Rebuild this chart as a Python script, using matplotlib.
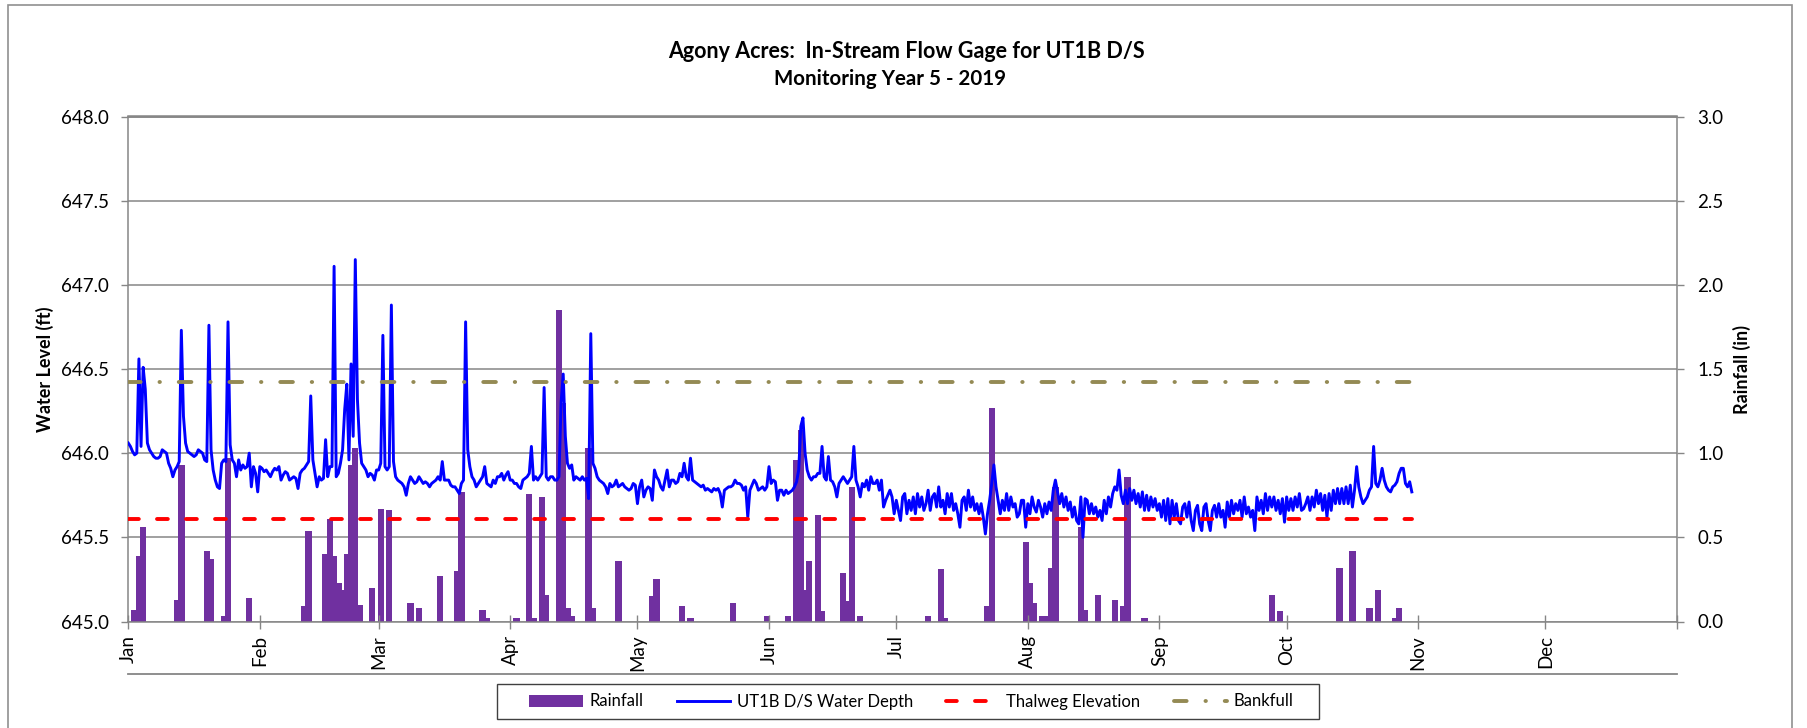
import numpy as np
import matplotlib
matplotlib.use('Agg')
import matplotlib.pyplot as plt
from matplotlib.lines import Line2D
from matplotlib.patches import Rectangle

plt.rcParams['font.family'] = ['Lato', 'DejaVu Sans']

# daily rainfall totals (in)
rain_dates = ['2019-01-02', '2019-01-03', '2019-01-04', '2019-01-12', '2019-01-13',
              '2019-01-19', '2019-01-20', '2019-01-23', '2019-01-24', '2019-01-29',
              '2019-02-11', '2019-02-12', '2019-02-16', '2019-02-17', '2019-02-18',
              '2019-02-19', '2019-02-20', '2019-02-21', '2019-02-22', '2019-02-23',
              '2019-02-24', '2019-02-27',
              '2019-03-01', '2019-03-03', '2019-03-08', '2019-03-10', '2019-03-15',
              '2019-03-19', '2019-03-20', '2019-03-25', '2019-03-26',
              '2019-04-02', '2019-04-05', '2019-04-06', '2019-04-08', '2019-04-09',
              '2019-04-12', '2019-04-13', '2019-04-14', '2019-04-15', '2019-04-19',
              '2019-04-20', '2019-04-26',
              '2019-05-04', '2019-05-05', '2019-05-11', '2019-05-13', '2019-05-23',
              '2019-05-31',
              '2019-06-05', '2019-06-07', '2019-06-08', '2019-06-09', '2019-06-10',
              '2019-06-12', '2019-06-13', '2019-06-18', '2019-06-19', '2019-06-20',
              '2019-06-22',
              '2019-07-08', '2019-07-11', '2019-07-12', '2019-07-22', '2019-07-23',
              '2019-07-31',
              '2019-08-01', '2019-08-02', '2019-08-04', '2019-08-05', '2019-08-06',
              '2019-08-07', '2019-08-13', '2019-08-14', '2019-08-17', '2019-08-21',
              '2019-08-23', '2019-08-24', '2019-08-28',
              '2019-09-27', '2019-09-29',
              '2019-10-13', '2019-10-16', '2019-10-20', '2019-10-22', '2019-10-26',
              '2019-10-27']
rain_in = [0.07, 0.39, 0.56, 0.13, 0.93, 0.42, 0.37, 0.03, 0.97, 0.14,
           0.09, 0.54, 0.40, 0.61, 0.39, 0.23, 0.19, 0.40, 0.93, 1.03, 0.10, 0.20,
           0.67, 0.66, 0.11, 0.08, 0.27, 0.30, 0.77, 0.07, 0.02,
           0.02, 0.76, 0.02, 0.74, 0.16, 1.85, 1.30, 0.08, 0.03, 1.03, 0.08, 0.36,
           0.15, 0.25, 0.09, 0.02, 0.11, 0.03,
           0.03, 0.96, 1.14, 0.19, 0.36, 0.63, 0.06, 0.29, 0.12, 0.80, 0.03,
           0.03, 0.31, 0.02, 0.09, 1.27, 0.47,
           0.23, 0.11, 0.03, 0.03, 0.32, 0.80, 0.56, 0.07, 0.16, 0.13, 0.09, 0.86, 0.02,
           0.16, 0.06,
           0.32, 0.42, 0.08, 0.19, 0.02, 0.08]

# gage readings every 12 h from Jan 1, in hundredths of a foot above 645.00 ft
level_start = '2019-01-01T00:00'
level_hundredths = [
    106, 104, 101, 99, 100, 156, 104, 151, 138, 106, 102, 100, 98, 97, 97, 98, 102, 101, 100, 94,
    91, 86, 90, 92, 95, 173, 122, 106, 101, 100, 99, 98, 99, 102, 101, 100, 96, 95, 176, 102,
    90, 84, 80, 79, 94, 96, 95, 178, 105, 96, 94, 86, 96, 90, 93, 91, 92, 100, 80, 92,
    88, 77, 92, 91, 89, 90, 88, 86, 89, 91, 90, 92, 84, 87, 89, 88, 84, 85, 86, 85,
    79, 88, 90, 91, 93, 95, 134, 96, 88, 80, 86, 84, 85, 108, 86, 92, 92, 211, 86, 88,
    94, 102, 126, 141, 96, 153, 110, 215, 132, 106, 94, 92, 90, 86, 88, 87, 84, 90, 90, 94,
    170, 92, 90, 92, 188, 95, 86, 84, 83, 82, 80, 75, 82, 86, 84, 82, 83, 86, 84, 82,
    83, 82, 80, 82, 83, 84, 86, 84, 95, 84, 84, 84, 81, 80, 80, 78, 76, 82, 84, 178,
    102, 92, 86, 84, 80, 82, 84, 86, 92, 82, 81, 80, 84, 82, 86, 86, 88, 84, 87, 89,
    84, 84, 82, 82, 80, 79, 84, 85, 86, 88, 104, 84, 86, 84, 86, 88, 139, 86, 84, 86,
    86, 84, 84, 86, 130, 147, 110, 94, 91, 93, 84, 86, 85, 84, 86, 84, 85, 73, 171, 94,
    91, 86, 84, 83, 82, 80, 76, 82, 80, 81, 84, 80, 81, 82, 80, 79, 78, 79, 82, 81,
    70, 80, 84, 74, 78, 80, 79, 72, 90, 86, 84, 80, 78, 84, 90, 80, 84, 84, 82, 83,
    88, 86, 94, 86, 84, 97, 84, 83, 82, 81, 80, 81, 78, 79, 78, 77, 79, 78, 79, 76,
    68, 78, 79, 80, 80, 81, 84, 82, 82, 81, 78, 80, 62, 78, 81, 84, 82, 78, 79, 80,
    78, 80, 92, 82, 84, 83, 72, 78, 78, 75, 78, 76, 77, 78, 80, 83, 90, 116, 121, 100,
    90, 86, 84, 86, 86, 88, 88, 104, 86, 84, 98, 84, 83, 80, 74, 82, 84, 86, 84, 82,
    84, 86, 104, 84, 80, 74, 82, 80, 84, 78, 86, 82, 82, 84, 78, 84, 68, 72, 75, 78,
    74, 64, 72, 66, 60, 74, 76, 64, 72, 66, 74, 64, 76, 68, 74, 66, 70, 78, 66, 74,
    76, 68, 80, 68, 72, 64, 76, 68, 76, 66, 70, 64, 56, 72, 74, 66, 78, 68, 74, 66,
    70, 64, 70, 62, 52, 64, 72, 82, 93, 80, 72, 64, 72, 66, 76, 66, 74, 68, 70, 62,
    64, 72, 72, 56, 70, 64, 74, 68, 65, 72, 68, 62, 70, 64, 71, 66, 78, 84, 77, 70,
    76, 68, 74, 66, 71, 62, 68, 60, 58, 74, 50, 73, 72, 64, 70, 64, 68, 62, 66, 60,
    72, 64, 74, 68, 76, 80, 78, 90, 75, 70, 78, 70, 79, 72, 78, 70, 76, 68, 77, 66,
    75, 66, 74, 68, 73, 66, 70, 62, 72, 60, 73, 58, 72, 62, 70, 60, 58, 68, 70, 62,
    71, 60, 54, 66, 69, 58, 54, 68, 70, 60, 54, 66, 69, 62, 70, 62, 66, 56, 71, 62,
    72, 64, 70, 66, 72, 62, 74, 64, 68, 62, 66, 54, 74, 66, 72, 64, 76, 66, 74, 68,
    74, 66, 72, 64, 73, 59, 74, 66, 73, 66, 74, 68, 76, 66, 67, 70, 74, 66, 74, 68,
    78, 70, 76, 66, 75, 62, 76, 66, 78, 70, 79, 70, 79, 70, 80, 70, 81, 68, 78, 92,
    80, 74, 70, 72, 74, 78, 80, 104, 82, 80, 84, 91, 84, 80, 78, 77, 80, 81, 83, 88,
    91, 91, 82, 80, 83, 77,
]

thalweg_elev = 645.61
bankfull_elev = 646.42

month_labels = ['Jan', 'Feb', 'Mar', 'Apr', 'May', 'Jun',
                'Jul', 'Aug', 'Sep', 'Oct', 'Nov', 'Dec', '']

# colours
PURPLE = '#7030A0'
BLUE = '#0000FF'
RED = '#FF0000'
OLIVE = '#948A54'
GRID = '#868686'

W, H = 1808, 728
fig = plt.figure(figsize=(W / 100, H / 100), dpi=100)
fig.patch.set_facecolor('white')

# plot area in pixels
x0, x1, y_top, y_bot = 128.3, 1677.0, 116.5, 621.5
ax = fig.add_axes([x0 / W, 1 - y_bot / H, (x1 - x0) / W, (y_bot - y_top) / H])
ax2 = ax.twinx()
ax.set_zorder(2)
ax2.set_zorder(1)
ax.patch.set_visible(False)

# time axes
level_t = np.datetime64(level_start) + np.arange(len(level_hundredths)) * np.timedelta64(12, 'h')
level_ft = 645.0 + np.array(level_hundredths) / 100.0
rain_t = np.array(rain_dates, dtype='datetime64[D]') + np.timedelta64(12, 'h')

# rainfall bars on the right axis, gridlines behind them
bars = ax2.bar(rain_t, rain_in, width=1.5, color=PURPLE, linewidth=0, zorder=2)
ax2.set_ylim(0, 3.0)
ax2.set_yticks(np.arange(0, 3.01, 0.5))
ax2.yaxis.set_major_formatter(matplotlib.ticker.FormatStrFormatter('%.1f'))
ax2.yaxis.grid(True, color=GRID, lw=1.1)
ax2.set_axisbelow(True)

# water level and reference elevations on the left axis
line_level, = ax.plot(level_t, level_ft, color=BLUE, lw=2.1, zorder=3,
                      solid_joinstyle='round')
span = [level_t[0], level_t[-1]]
line_thal, = ax.plot(span, [thalweg_elev] * 2, color=RED, lw=2.8, zorder=4,
                     linestyle=(0, (2.78, 4.68)), dash_capstyle='round')
line_bank, = ax.plot(span, [bankfull_elev] * 2, color=OLIVE, lw=2.8, zorder=4,
                     linestyle=(0, (3.25, 4.85, 0.1, 4.85)), dash_capstyle='round')
ax.set_ylim(645.0, 648.0)
ax.set_yticks(np.arange(645.0, 648.01, 0.5))
ax.yaxis.set_major_formatter(matplotlib.ticker.FormatStrFormatter('%.1f'))

# months along the bottom
month_starts = np.arange('2019-01', '2020-02', dtype='datetime64[M]').astype('datetime64[D]')
ax.set_xlim(month_starts[0], month_starts[-1])
ax.set_xticks(month_starts)
ax.set_xticklabels(month_labels, rotation=90)

for a in (ax, ax2):
    for s in a.spines.values():
        s.set_color(GRID)
        s.set_linewidth(1.1)
ax.spines['right'].set_visible(False)
ax2.spines['left'].set_visible(False)
ax2.spines['bottom'].set_visible(False)

ax.tick_params(axis='x', direction='inout', length=9.6, width=1.0, color=GRID,
               pad=4.9, labelsize=13.5, labelcolor='black')
ax.tick_params(axis='y', direction='out', length=4.8, width=1.0, color=GRID,
               pad=9.0, labelsize=13.5, labelcolor='black')
ax2.tick_params(axis='y', direction='out', length=4.8, width=1.0, color=GRID,
                pad=10, labelsize=13.5, labelcolor='black')

# axis titles
fig.text(44.5 / W, 1 - 369 / H, 'Water Level (ft)', rotation=90, ha='center',
         va='center', fontsize=13, fontweight='bold')
fig.text(1742 / W, 1 - 369 / H, 'Rainfall (in)', rotation=90, ha='center',
         va='center', fontsize=13, fontweight='bold')

# chart title
fig.text(906 / W, 1 - 58 / H, 'Agony Acres:  In-Stream Flow Gage for UT1B D/S',
         ha='center', va='baseline', fontsize=15.5, fontweight='bold')
fig.text(890 / W, 1 - 85 / H, 'Monitoring Year 5 - 2019',
         ha='center', va='baseline', fontsize=14.8, fontweight='bold')

# second date axis line below the labels
fig.add_artist(Line2D([x0 / W, x1 / W], [1 - 674 / H] * 2, color=GRID, lw=1.3))

# legend with its own frame
leg = fig.legend([bars, line_level, line_thal, line_bank],
                 ['Rainfall', 'UT1B D/S Water Depth', 'Thalweg Elevation', 'Bankfull'],
                 loc='center', bbox_to_anchor=(911.5 / W, 1 - 701.5 / H),
                 bbox_transform=fig.transFigure, ncol=4, frameon=False,
                 fontsize=12, handlelength=3.2, handletextpad=0.4,
                 columnspacing=2.0, handleheight=0.75)
fig.add_artist(Rectangle((497 / W, 1 - 719 / H), (1319 - 497) / W, 35 / H,
                         transform=fig.transFigure, fill=False,
                         edgecolor='#404040', lw=1.0))

# chart border
fig.add_artist(Rectangle((8 / W, -0.05), (1792 - 8) / W, 1.05 - 5 / H,
                         transform=fig.transFigure, fill=False,
                         edgecolor='#909090', lw=1.2))

fig.savefig('out.png', dpi=100)
